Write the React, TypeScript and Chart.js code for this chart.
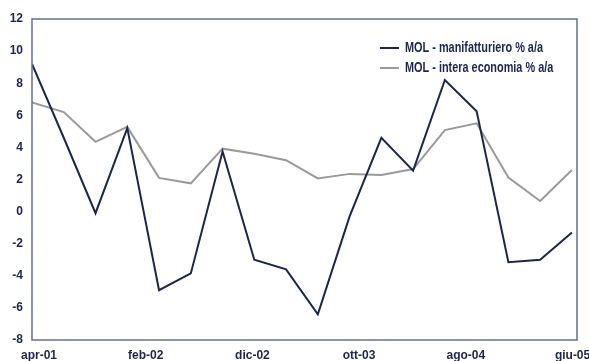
import React, { useEffect, useRef } from "react";
import { Chart, registerables } from "chart.js";

Chart.register(...registerables);

const periods = [
  "mar-01", "giu-01", "set-01", "dic-01", "mar-02", "giu-02", "set-02", "dic-02", "mar-03",
  "giu-03", "set-03", "dic-03", "mar-04", "giu-04", "set-04", "dic-04", "mar-05", "giu-05",
];
const manifatturiero = [9.2, 4.6, -0.1, 5.2, -4.9, -3.85, 3.75, -3.0, -3.6, -6.4, -0.3, 4.6, 2.55, 8.2, 6.25, -3.15, -3.0, -1.3];
const interaEconomia = [6.8, 6.2, 4.35, 5.28, 2.1, 1.76, 3.92, 3.6, 3.2, 2.07, 2.35, 2.28, 2.65, 5.08, 5.5, 2.12, 0.66, 2.59];
const xTickLabels = ["apr-01", "feb-02", "dic-02", "ott-03", "ago-04", "giu-05"];
const xTickPositions = [0.22, 3.58, 6.94, 10.3, 13.66, 17.02];
const seriesNames = ["MOL - manifatturiero % a/a", "MOL - intera economia % a/a"];

const DARK = "#1c2550";
const GRAY = "#9a9a9a";
const FONT = "'Liberation Sans', Arial, sans-serif";

export default function App() {
  const ref = useRef<HTMLCanvasElement | null>(null);
  useEffect(() => {
    if (!ref.current) return;
    const legendPlugin = {
      id: "customLegend",
      afterDraw(chart: any) {
        const ctx = chart.ctx;
        const { chartArea } = chart;
        ctx.save();
        ctx.strokeStyle = "#66708f";
        ctx.lineWidth = 1.5;
        ctx.strokeRect(chartArea.left, chartArea.top, chartArea.right - chartArea.left, chartArea.bottom - chartArea.top);
        const colors = [DARK, GRAY];
        ctx.font = `bold 14px ${FONT}`;
        const sx = 138 / ctx.measureText(seriesNames[0]).width;
        seriesNames.forEach((name, i) => {
          const y = 48 + i * 20;
          ctx.strokeStyle = colors[i];
          ctx.lineWidth = 2;
          ctx.beginPath();
          ctx.moveTo(380, y);
          ctx.lineTo(399, y);
          ctx.stroke();
          ctx.save();
          ctx.translate(405, y);
          ctx.scale(sx, 1);
          ctx.fillStyle = DARK;
          ctx.textBaseline = "middle";
          ctx.textAlign = "left";
          ctx.fillText(name, 0, 0);
          ctx.restore();
        });
        ctx.restore();
      },
    };
    const chart = new Chart(ref.current, {
      type: "line",
      data: {
        datasets: [
          {
            label: seriesNames[0],
            data: manifatturiero.map((v, i) => ({ x: i, y: v })),
            borderColor: DARK,
            borderWidth: 2,
            pointRadius: 0,
            tension: 0,
          },
          {
            label: seriesNames[1],
            data: interaEconomia.map((v, i) => ({ x: i, y: v })),
            borderColor: GRAY,
            borderWidth: 2,
            pointRadius: 0,
            tension: 0,
          },
        ],
      },
      options: {
        animation: false,
        responsive: false,
        layout: { padding: { top: 19, right: 12, left: 0, bottom: 0 } },
        plugins: { legend: { display: false }, tooltip: { enabled: false } },
        scales: {
          x: {
            type: "linear",
            min: 0,
            max: 17.16,
            grid: { display: false, drawTicks: false },
            border: { display: false },
            afterBuildTicks: (scale: any) => {
              scale.ticks = xTickPositions.map((v) => ({ value: v }));
            },
            afterFit: (scale: any) => {
              scale.height = 21;
              scale.paddingLeft = 0;
              scale.paddingRight = 0;
            },
            ticks: {
              autoSkip: false,
              maxRotation: 0,
              padding: 8,
              color: DARK,
              font: { family: FONT, size: 12, weight: "bold" },
              callback: (_v: any, i: number) => xTickLabels[i],
            },
          },
          y: {
            min: -8,
            max: 12,
            grid: { display: false, drawTicks: false },
            border: { display: false },
            afterFit: (scale: any) => {
              scale.width = 32;
            },
            ticks: {
              stepSize: 2,
              padding: 9,
              color: DARK,
              font: { family: FONT, size: 12, weight: "bold" },
            },
          },
        },
      },
      plugins: [legendPlugin],
    });
    return () => chart.destroy();
  }, []);
  return (
    <div style={{ position: "fixed", left: 0, top: 0, width: 589, height: 361, background: "#fff" }}>
      <canvas ref={ref} width={589} height={361} style={{ width: 589, height: 361 }} />
    </div>
  );
}
